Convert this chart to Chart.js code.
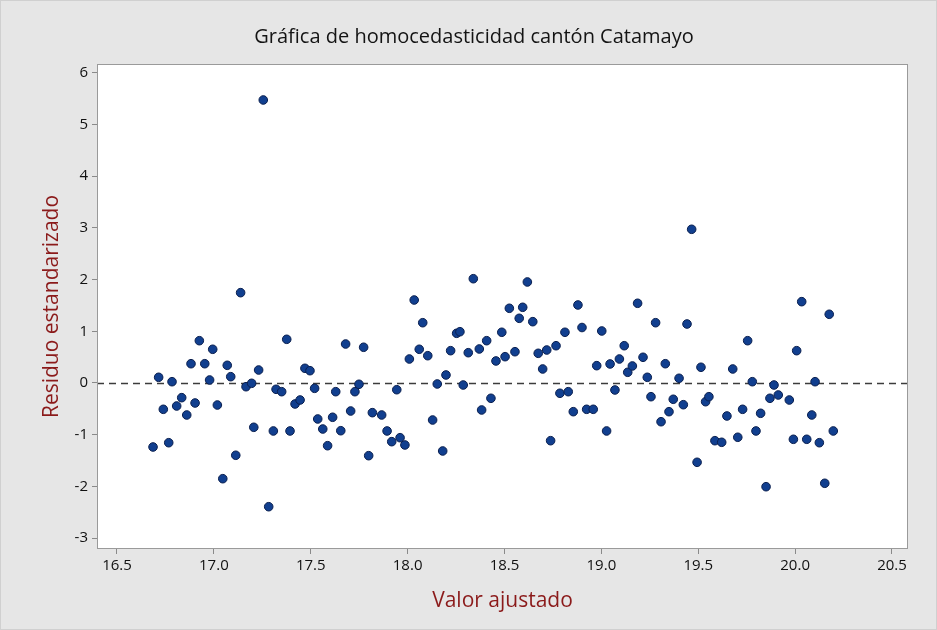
<!DOCTYPE html>
<html lang="es">
<head>
<meta charset="utf-8">
<title>Gráfica de homocedasticidad cantón Catamayo</title>
<script src="https://cdn.jsdelivr.net/npm/chart.js@4.4.1/dist/chart.umd.min.js"></script>
<style>
  html, body { margin: 0; padding: 0; background: #e6e6e6; }
  #chartHomo { display: block; }
</style>
</head>
<body>
<canvas id="chartHomo" width="937" height="630"></canvas>
<script>
// * #### DATOS ####
const valorAjustado = [
  16.686, 16.715, 16.739, 16.767, 16.784, 16.808, 16.834, 16.860, 16.882, 16.903,
  16.925, 16.953, 16.978, 16.994, 17.018, 17.046, 17.069, 17.087, 17.113, 17.138,
  17.166, 17.195, 17.206, 17.231, 17.255, 17.283, 17.307, 17.321, 17.350, 17.376,
  17.393, 17.419, 17.445, 17.470, 17.496, 17.520, 17.536, 17.562, 17.587, 17.613,
  17.629, 17.655, 17.680, 17.706, 17.728, 17.749, 17.773, 17.799, 17.818, 17.866,
  17.894, 17.918, 17.944, 17.961, 17.986, 18.009, 18.034, 18.060, 18.078, 18.104,
  18.129, 18.153, 18.181, 18.198, 18.222, 18.253, 18.270, 18.287, 18.313, 18.339,
  18.370, 18.382, 18.408, 18.430, 18.456, 18.486, 18.503, 18.525, 18.554, 18.576,
  18.594, 18.618, 18.646, 18.674, 18.697, 18.718, 18.738, 18.766, 18.786, 18.812,
  18.829, 18.855, 18.879, 18.900, 18.924, 18.958, 18.976, 19.002, 19.027, 19.045,
  19.070, 19.093, 19.118, 19.136, 19.160, 19.187, 19.215, 19.237, 19.256, 19.280,
  19.308, 19.330, 19.349, 19.371, 19.401, 19.423, 19.442, 19.466, 19.494, 19.514,
  19.538, 19.555, 19.586, 19.621, 19.648, 19.678, 19.704, 19.729, 19.755, 19.779,
  19.798, 19.822, 19.850, 19.870, 19.891, 19.913, 19.970, 19.991, 20.008, 20.034,
  20.060, 20.086, 20.103, 20.125, 20.153, 20.176, 20.197
];
const residuoEstandarizado = [
  -1.238, 0.110, -0.509, -1.155, 0.025, -0.445, -0.284, -0.619, 0.373, -0.387,
  0.818, 0.373, 0.058, 0.652, -0.426, -1.851, 0.342, 0.122, -1.398, 1.747,
  -0.072, -0.006, -0.857, 0.251, 5.474, -2.393, -0.928, -0.122, -0.168, 0.845,
  -0.928, -0.406, -0.329, 0.284, 0.238, -0.103, -0.696, -0.890, -1.213, -0.663,
  -0.168, -0.923, 0.754, -0.542, -0.168, -0.025, 0.691, -1.406, -0.574, -0.619,
  -0.928, -1.135, -0.130, -1.058, -1.199, 0.464, 1.605, 0.652, 1.166, 0.528,
  -0.716, -0.019, -1.315, 0.155, 0.625, 0.961, 0.992, -0.039, 0.586, 2.017,
  0.658, -0.522, 0.818, -0.296, 0.426, 0.981, 0.509, 1.445, 0.605, 1.251,
  1.464, 1.954, 1.186, 0.574, 0.271, 0.638, -1.116, 0.721, -0.199, 0.981,
  -0.168, -0.555, 1.509, 1.073, -0.509, -0.509, 0.335, 1.006, -0.928, 0.368,
  -0.135, 0.464, 0.721, 0.207, 0.329, 1.542, 0.497, 0.110, -0.265, 1.166,
  -0.749, 0.373, -0.555, -0.315, 0.091, -0.420, 1.141, 2.973, -1.534, 0.304,
  -0.362, -0.265, -1.116, -1.147, -0.638, 0.271, -1.050, -0.509, 0.818, 0.025,
  -0.928, -0.586, -2.006, -0.296, -0.039, -0.232, -0.329, -1.089, 0.625, 1.573,
  -1.089, -0.619, 0.025, -1.155, -1.940, 1.329, -0.928
];
const ticksX = [16.5, 17.0, 17.5, 18.0, 18.5, 19.0, 19.5, 20.0, 20.5];
const ticksY = [-3, -2, -1, 0, 1, 2, 3, 4, 5, 6];
const lineaReferencia = 0;

const tituloGrafica = "Gráfica de homocedasticidad cantón Catamayo";
const ctx_homo = document.getElementById("chartHomo");

// * #### PLUGINS DE DIBUJO ####
const fondoPlugin = {
  id: "fondo",
  beforeDraw(chart) {
    const { ctx, chartArea: a } = chart;
    ctx.save();
    ctx.fillStyle = "#e6e6e6";
    ctx.fillRect(0, 0, chart.width, chart.height);
    ctx.strokeStyle = "#d0d0d0";
    ctx.strokeRect(0.5, 0.5, chart.width - 1, chart.height - 1);
    ctx.fillStyle = "#ffffff";
    ctx.fillRect(a.left, a.top, a.right - a.left, a.bottom - a.top);
    ctx.restore();
  },
};

const ceroPlugin = {
  id: "lineaCero",
  beforeDatasetsDraw(chart) {
    const { ctx, chartArea: a, scales } = chart;
    const y = Math.round(scales.y.getPixelForValue(lineaReferencia)) + 0.5;
    ctx.save();
    ctx.strokeStyle = "#3c3c3c";
    ctx.lineWidth = 1.5;
    ctx.setLineDash([7, 5]);
    ctx.beginPath();
    ctx.moveTo(a.left, y);
    ctx.lineTo(a.right, y);
    ctx.stroke();
    ctx.restore();
  },
};

const marcoPlugin = {
  id: "marco",
  afterDraw(chart) {
    const { ctx, chartArea: a } = chart;
    ctx.save();
    ctx.strokeStyle = "#9a9a9a";
    ctx.lineWidth = 1;
    ctx.strokeRect(a.left + 0.5, a.top + 0.5, a.right - a.left - 1, a.bottom - a.top - 1);
    // titulo centrado en todo el lienzo
    ctx.fillStyle = "#141414";
    ctx.font = "20px 'Open Sans'";
    ctx.textAlign = "center";
    ctx.textBaseline = "middle";
    ctx.fillText(tituloGrafica, 474, 37);
    ctx.restore();
  },
};

// * #### GRAFICA DE DISPERSION ####
const puntos = valorAjustado.map((v, i) => ({ x: v, y: residuoEstandarizado[i] }));

const myChart = new Chart(ctx_homo, {
  type: "scatter",
  data: {
    datasets: [
      {
        label: "Residuo",
        data: puntos,
        backgroundColor: "#113f8f",
        borderColor: "#0a1f4f",
        borderWidth: 1,
        pointRadius: 4.3,
        pointHoverRadius: 4.3,
      },
    ],
  },
  options: {
    responsive: false,
    animation: false,
    layout: { padding: { top: 64, right: 29, bottom: 0, left: 0 } },
    plugins: {
      legend: { display: false },
      tooltip: { enabled: false },
      title: { display: false },
    },
    scales: {
      x: {
        type: "linear",
        min: 16.3968,
        max: 20.5826,
        afterBuildTicks: (s) => { s.ticks = ticksX.map((v) => ({ value: v })); },
        afterFit: (s) => { s.height = 81; },
        border: { display: false },
        grid: { drawOnChartArea: false, tickLength: 5, tickColor: "#8a8a8a" },
        ticks: {
          padding: 3,
          color: "#111",
          font: { family: "'Open Sans'", size: 15 },
          callback: (v) => Number(v).toFixed(1),
        },
        title: {
          display: true,
          text: "Valor ajustado",
          color: "#8b1a1a",
          font: { family: "'Open Sans'", size: 21 },
          padding: { top: 0, bottom: 16.4 },
        },
      },
      y: {
        type: "linear",
        min: -3.211,
        max: 6.17,
        afterBuildTicks: (s) => { s.ticks = ticksY.map((v) => ({ value: v })); },
        afterFit: (s) => { s.width = 97; },
        border: { display: false },
        grid: { drawOnChartArea: false, tickLength: 5, tickColor: "#8a8a8a" },
        ticks: {
          padding: 4,
          color: "#111",
          font: { family: "'Open Sans'", size: 15 },
        },
        title: {
          display: true,
          text: "Residuo estandarizado",
          color: "#8b1a1a",
          font: { family: "'Open Sans'", size: 21 },
          padding: { top: 39.4, bottom: 0 },
        },
      },
    },
  },
  plugins: [fondoPlugin, ceroPlugin, marcoPlugin],
});
</script>
</body>
</html>
